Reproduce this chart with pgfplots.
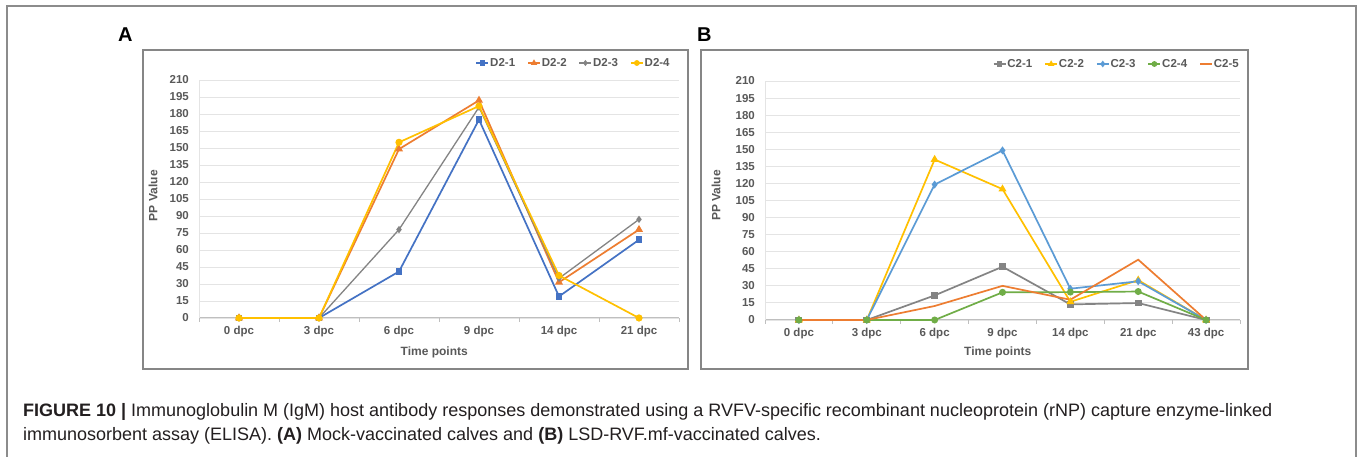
\documentclass[border=0pt]{standalone}
\usepackage{pgfplots}
\pgfplotsset{compat=1.18}
\usepackage{fontspec}
\setmainfont{Liberation Sans}
\usepackage{graphicx}
\definecolor{cblue}{HTML}{4472C4}
\definecolor{corange}{HTML}{ED7D31}
\definecolor{cgray}{HTML}{848484}
\definecolor{cyellow}{HTML}{FFC000}
\definecolor{clblue}{HTML}{5B9BD5}
\definecolor{cgreen}{HTML}{70AD47}
\definecolor{ctext}{HTML}{595959}
\definecolor{cgrid}{HTML}{E4E4E4}
\definecolor{caxis}{HTML}{BFBFBF}
\definecolor{cbox}{HTML}{868686}
\definecolor{cframe}{HTML}{8C8C8C}
\definecolor{ccap}{HTML}{231F20}
\pgfplotsset{
 chartstyle/.style={
  scale only axis, clip=false,
  ymin=0, ymax=210, ytick={0,15,...,210},
  axis x line=bottom, axis y line=left, axis line style={-},
  x axis line style={draw=caxis, line width=1pt},
  y axis line style={draw=cgrid, line width=0.8pt},
  ymajorgrids, grid style={draw=cgrid, line width=0.9pt},
  major tick length=0pt,
  tick label style={font=\fontsize{11.5}{12}\selectfont\bfseries, text=ctext},
  /pgf/number format/assume math mode=true,
  yticklabel style={anchor=east, inner sep=0pt, xshift=-10pt},
  xticklabel style={anchor=north, inner sep=0pt, yshift=-8pt},
  extra x tick style={major tick length=4pt, tick align=outside, tick style={draw=caxis, line width=0.8pt}, grid=none},
  extra x tick labels={},
  label style={font=\fontsize{12}{12}\selectfont\bfseries, text=ctext},
  legend style={draw=none, fill=none, inner sep=0pt, legend columns=-1,
    font=\fontsize{11.5}{12}\selectfont\bfseries, text=ctext,
    nodes={inner sep=1pt},
    /tikz/every even column/.append style={column sep=11pt}},
  legend image code/.code={\draw[mark repeat=2,mark phase=2,mark size=2pt] plot coordinates {(0pt,0pt) (6pt,0pt) (12pt,0pt)};},
  every axis plot/.append style={line width=1.7pt, mark options={solid}},
 }
}
\newsavebox\capone
\newsavebox\captwo
\newlength\capwd
\begin{document}
\sbox\capone{\color{ccap}\fontsize{16}{16}\selectfont{\bfseries FIGURE 10 |} Immunoglobulin M (IgM) host antibody responses demonstrated using a RVFV-specific recombinant nucleoprotein (rNP) capture enzyme-linked}%
\sbox\captwo{\color{ccap}\fontsize{16}{16}\selectfont immunosorbent assay (ELISA). {\bfseries (A)} Mock-vaccinated calves and {\bfseries (B)} LSD-RVF.mf-vaccinated calves.}%
\setlength\capwd{\wd\capone}%
\pgfmathsetmacro\capscale{1249/\capwd}%
\begin{tikzpicture}[x=1pt,y=1pt]
\useasboundingbox (0,0) rectangle (1358,457);
\fill[white] (0,0) rectangle (1358,457);
\draw[cframe, line width=1.3pt] (7,-3) -- (7,451) -- (1356,451) -- (1356,-3);
\draw[cbox, line width=1.1pt] (143,88) rectangle (688,407);
\draw[cbox, line width=1.1pt] (701,88) rectangle (1248,407);
\node[anchor=base west, inner sep=0pt, font=\fontsize{20}{20}\selectfont\bfseries] at (118,415) {A};
\node[anchor=base west, inner sep=0pt, font=\fontsize{20}{20}\selectfont\bfseries] at (697,415) {B};

\begin{axis}[chartstyle, at={(199pt,139pt)}, anchor=south west,
  width=480pt, height=238pt,
  xmin=-0.5, xmax=5.5, xtick={0,...,5},
  xticklabels={0 dpc,3 dpc,6 dpc,9 dpc,14 dpc,21 dpc},
  extra x ticks={-0.5,0.5,1.5,2.5,3.5,4.5,5.5},
  xlabel={Time points}, ylabel={PP Value},
  xlabel style={at={(axis description cs:0.49,-0.145)}, anchor=center},
  ylabel style={at={(axis description cs:-0.0958,0.514)}, anchor=center, rotate=0},
  legend style={at={(0.983,1.0714)}, anchor=east}]
\addplot[cblue, mark=square*, mark size=2.6pt] coordinates {(0,0) (1,0) (2,41) (3,175) (4,19) (5,69)};
\addlegendentry{D2-1}
\addplot[corange, mark=triangle*, mark size=3pt] coordinates {(0,0) (1,0) (2,149) (3,192) (4,31.5) (5,78)};
\addlegendentry{D2-2}
\addplot[cgray, line width=1.3pt, mark=diamond*, mark size=2.6pt] coordinates {(0,0) (1,0) (2,78) (3,186) (4,35) (5,87)};
\addlegendentry{D2-3}
\addplot[cyellow, mark=*, mark size=2.7pt] coordinates {(0,0) (1,0) (2,155) (3,187) (4,37.5) (5,0)};
\addlegendentry{D2-4}
\end{axis}

\begin{axis}[chartstyle, at={(765pt,137pt)}, anchor=south west,
  width=475pt, height=239pt,
  xmin=-0.5, xmax=6.5, xtick={0,...,6},
  xticklabels={0 dpc,3 dpc,6 dpc,9 dpc,14 dpc,21 dpc,43 dpc},
  extra x ticks={-0.5,0.5,1.5,2.5,3.5,4.5,5.5,6.5},
  xlabel={Time points}, ylabel={PP Value},
  xlabel style={at={(axis description cs:0.49,-0.136)}, anchor=center},
  ylabel style={at={(axis description cs:-0.103,0.521)}, anchor=center, rotate=0},
  legend style={at={(1.0,1.0711)}, anchor=east}]
\addplot[cgray, mark=square*, mark size=2.6pt] coordinates {(0,0) (1,0) (2,21.6) (3,46.8) (4,13.7) (5,14.9) (6,0)};
\addlegendentry{C2-1}
\addplot[cyellow, mark=triangle*, mark size=3pt] coordinates {(0,0) (1,0) (2,141) (3,115) (4,16) (5,35) (6,0)};
\addlegendentry{C2-2}
\addplot[clblue, mark=diamond*, mark size=2.6pt] coordinates {(0,0) (1,0) (2,119) (3,149) (4,27.5) (5,34) (6,0)};
\addlegendentry{C2-3}
\addplot[cgreen, mark=*, mark size=2.6pt] coordinates {(0,0) (1,0) (2,0) (3,24.3) (4,24.5) (5,25) (6,0)};
\addlegendentry{C2-4}
\addplot[corange, mark=none] coordinates {(0,0) (1,0) (2,12.3) (3,30) (4,17.8) (5,53) (6,0)};
\addlegendentry{C2-5}
\end{axis}

\node[anchor=base west, inner sep=0pt] at (23,40) {\scalebox{\capscale}{\usebox\capone}};
\node[anchor=base west, inner sep=0pt] at (23,16) {\scalebox{\capscale}{\usebox\captwo}};
\end{tikzpicture}
\end{document}
